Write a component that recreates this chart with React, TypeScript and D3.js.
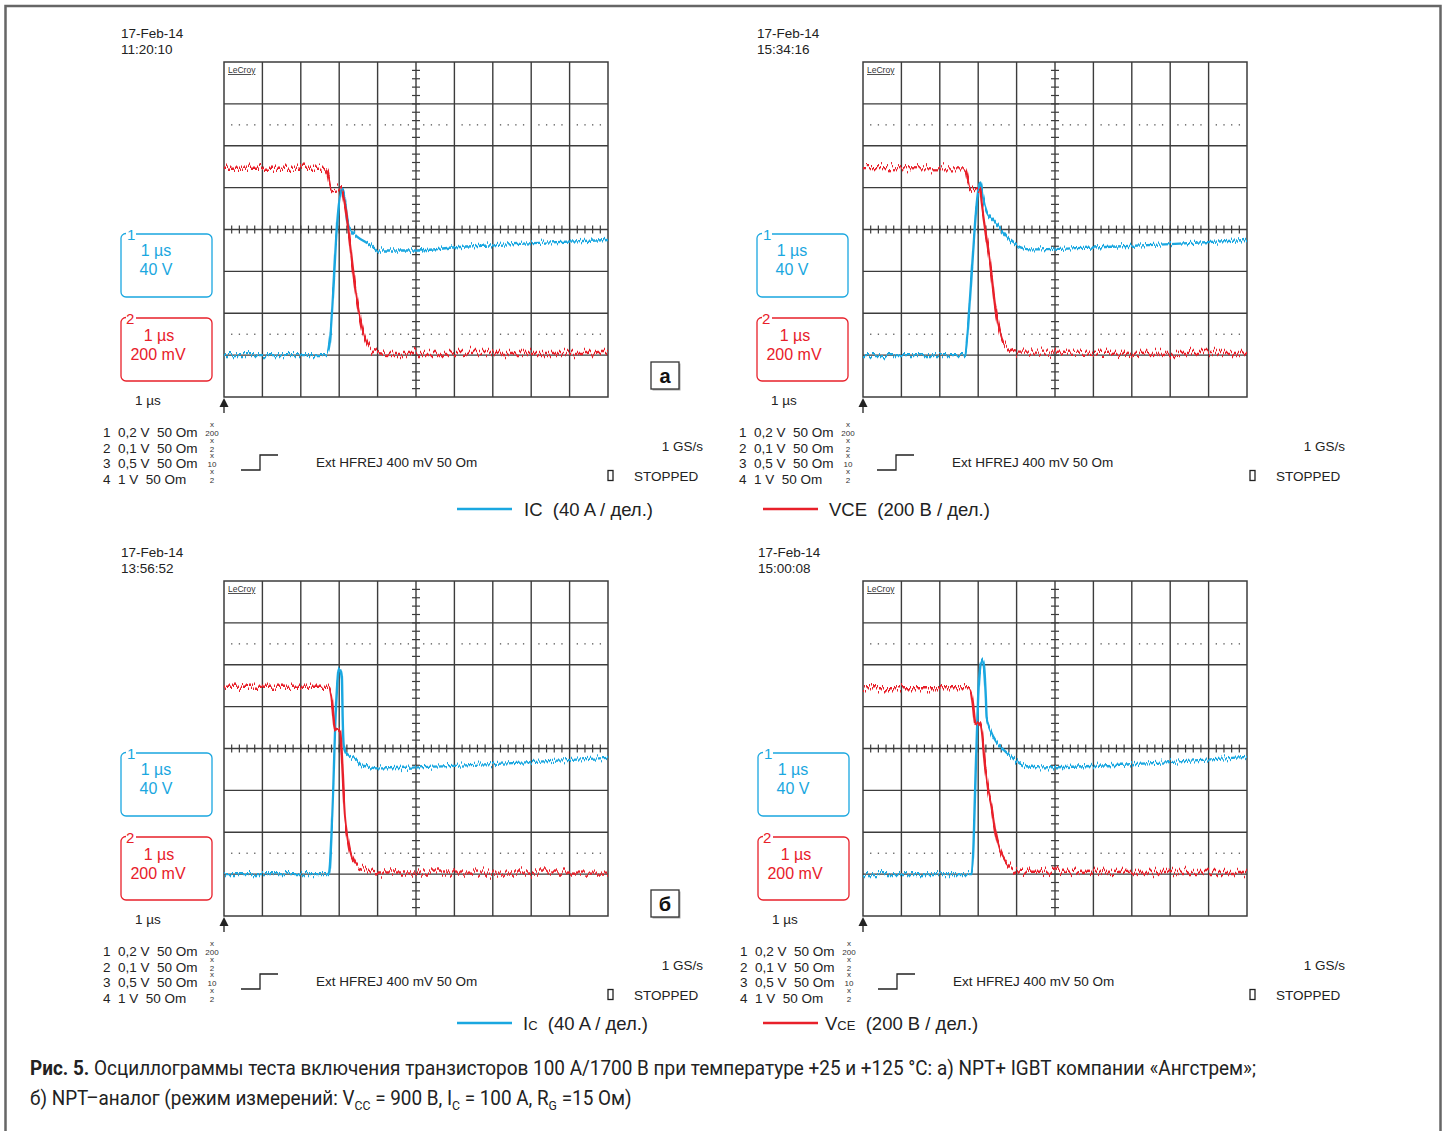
import React from 'react';
import * as d3 from 'd3';

// ---------- DATA (time in µs, IC in A, VCE in V) ----------
const icA: [number, number][] = [[0,0],[2.67,0],[2.76,14],[2.85,65],[2.93,117],[3.02,151],[3.09,158],[3.15,148],[3.21,129],[3.26,122],[3.89,103],[3.98,100],[5.02,100],[6.02,103],[7.01,105],[8.05,107],[10,110]];
const vceA: [number, number][] = [[0,895],[2.58,895],[2.67,884],[2.80,788],[3.06,793],[3.15,717],[3.45,279],[3.63,106],[3.80,34],[3.98,15],[4.3,10],[10,10]];
const icB: [number, number][] = [[0,0],[2.66,0],[2.72,20],[2.79,56],[2.87,100],[2.96,145],[3.03,164],[3.06,166],[3.12,151],[3.22,137],[3.39,129],[3.57,121],[3.74,113],[4.0,105],[4.35,101],[6.17,103],[8.0,106],[10,110]];
const vceB: [number, number][] = [[0,893],[2.66,892],[2.79,797],[3.05,789],[3.09,726],[3.31,440],[3.48,184],[3.65,57],[3.83,25],[4.0,12],[10,10]];
const icC: [number, number][] = [[0,0],[2.72,0],[2.76,10],[2.80,39],[2.85,87],[2.89,135],[2.94,176],[2.98,195],[3.02,198],[3.07,189],[3.09,150],[3.12,122],[3.20,114],[3.45,109],[3.58,104],[3.71,103],[3.98,101],[5.0,102],[7.5,106],[10,111]];
const vceC: [number, number][] = [[0,895],[2.72,895],[2.80,848],[2.85,752],[2.89,689],[2.98,697],[3.02,689],[3.07,561],[3.11,402],[3.15,275],[3.20,203],[3.28,116],[3.41,53],[3.54,29],[3.67,21],[4.0,8],[10,7]];
const icD: [number, number][] = [[0,0],[2.83,0],[2.87,20],[2.92,80],[2.96,128],[3.0,170],[3.05,198],[3.10,206],[3.15,198],[3.20,167],[3.22,149],[3.31,138],[3.48,126],[3.74,116],[4.0,108],[4.26,103],[4.61,102],[7.0,105],[10,112]];
const vceD: [number, number][] = [[0,888],[2.79,888],[2.87,801],[2.92,721],[2.98,708],[3.05,721],[3.09,689],[3.18,513],[3.26,402],[3.35,322],[3.44,211],[3.57,116],[3.74,55],[3.87,29],[4.1,11],[10,10]];

const dates = ['17-Feb-14', '17-Feb-14', '17-Feb-14', '17-Feb-14'];
const times = ['11:20:10', '15:34:16', '13:56:52', '15:00:08'];
const infoRows = ['1  0,2 V  50 Om', '2  0,1 V  50 Om', '3  0,5 V  50 Om', '4  1 V  50 Om'];
const probeFactors = ['200', '2', '10', '2'];
const chan1 = ['1 µs', '40 V'];
const chan2 = ['1 µs', '200 mV'];
const timebase = '1 µs';
const triggerText = 'Ext HFREJ 400 mV 50 Om';
const sampleRate = '1 GS/s';
const status = 'STOPPED';
const panelLabels = ['а', 'б'];
const timeDomain = [0, 10];          // 10 div × 1 µs
const icDomain = [-40, 280];         // 8 div × 40 A, zero at −3 div
const vceDomain = [-200, 1400];      // 8 div × 200 V, zero at −3 div

// ---------- LAYOUT ----------
const GW = 384, GH = 335;
const panels = [
  { gx: 224, gy: 62, ic: icA, vce: vceA, lx: 0 },
  { gx: 863, gy: 62, ic: icB, vce: vceB, lx: -3 },
  { gx: 224, gy: 581, ic: icC, vce: vceC, lx: 0 },
  { gx: 863, gy: 581, ic: icD, vce: vceD, lx: -2 },
];
const BLUE = '#1aa7e0';
const RED = '#e8202a';
const GRID = '#3c3c3c';
const FONT = '"Liberation Sans", Arial, sans-serif';

function chanPath(x0: number, y0: number, x1: number, y1: number, r: number, gapEnd: number) {
  return `M${x0 + gapEnd},${y0} H${x1 - r} A${r},${r} 0 0 1 ${x1},${y0 + r} V${y1 - r} A${r},${r} 0 0 1 ${x1 - r},${y1} H${x0 + r} A${r},${r} 0 0 1 ${x0},${y1 - r} V${y0 + r} A${r},${r} 0 0 1 ${x0 + r},${y0 - 0.5}`;
}

function Scope({ p, idx }: { p: any; idx: number }) {
  const { gx, gy } = p;
  const lx = p.lx;
  const x = d3.scaleLinear().domain(timeDomain).range([gx, gx + GW]);
  const yI = d3.scaleLinear().domain(icDomain).range([gy + GH, gy]);
  const yV = d3.scaleLinear().domain(vceDomain).range([gy + GH, gy]);
  const lineI = d3.line<[number, number]>().x(d => x(d[0])).y(d => yI(d[1])).curve(d3.curveMonotoneX);
  const lineV = d3.line<[number, number]>().x(d => x(d[0])).y(d => yV(d[1])).curve(d3.curveMonotoneX);
  const vx = d3.range(1, 10).map(i => gx + (i * GW) / 10);
  const hy = d3.range(1, 8).map(j => gy + (j * GH) / 8);
  const cx = gx + GW / 2, cy = gy + GH / 2;
  const hTicks = d3.range(1, 50).map(k => gx + (k * GW) / 50);
  const vTicks = d3.range(1, 40).map(k => gy + (k * GH) / 40);
  const dotY = [gy + 1.5 * GH / 8, gy + 6.5 * GH / 8];
  const dotX = d3.range(1, 50).filter(k => k % 5 !== 0).map(k => gx + (k * GW) / 50);
  const bx0 = gx - 103 + lx, bx1 = gx - 12 + lx;
  const b1y = gy + 172, b2y = gy + 256;
  const rightShift = idx % 2 === 1 ? 3 : 0;
  return (
    <g fontFamily={FONT}>
      {/* date */}
      <text x={gx - 103 + lx} y={gy - 24} fontSize={13.5} fill="#222">{dates[idx]}</text>
      <text x={gx - 103 + lx} y={gy - 8} fontSize={13.5} fill="#222">{times[idx]}</text>
      {/* grid */}
      {vx.map((v, i) => <line key={'v' + i} x1={v} x2={v} y1={gy} y2={gy + GH} stroke={GRID} strokeWidth={1.4} />)}
      {hy.map((h, i) => <line key={'h' + i} x1={gx} x2={gx + GW} y1={h} y2={h} stroke={GRID} strokeWidth={1.4} />)}
      {hTicks.map((t, i) => <line key={'ht' + i} x1={t} x2={t} y1={cy - 4} y2={cy + 4} stroke={GRID} strokeWidth={1.2} />)}
      {vTicks.map((t, i) => <line key={'vt' + i} x1={cx - 4} x2={cx + 4} y1={t} y2={t} stroke={GRID} strokeWidth={1.2} />)}
      {dotY.map((dy, j) => dotX.map((dx, i) => <rect key={'d' + j + '_' + i} x={dx - 0.6} y={dy - 0.6} width={1.3} height={1.3} fill="#555" />))}
      <rect x={gx} y={gy} width={GW} height={GH} fill="none" stroke={GRID} strokeWidth={1.5} />
      <text x={gx + 4} y={gy + 11} fontSize={8.5} fill="#333" textDecoration="underline">LeCroy</text>
      {/* traces */}
      <path d={lineI(p.ic) || ''} fill="none" stroke={BLUE} strokeWidth={2.4} filter="url(#jitB)" />
      <path d={lineV(p.vce) || ''} fill="none" stroke={RED} strokeWidth={2.4} filter="url(#jitR)" />
      {/* trigger arrow */}
      <path d={`M${gx},${gy + GH + 1} L${gx - 4.5},${gy + GH + 10} L${gx + 4.5},${gy + GH + 10} Z`} fill="#222" />
      <line x1={gx} x2={gx} y1={gy + GH + 8} y2={gy + GH + 16} stroke="#222" strokeWidth={1.3} />
      {/* channel boxes */}
      <path d={chanPath(bx0, b1y, bx1, b1y + 63, 5, 15)} fill="none" stroke={BLUE} strokeWidth={1.3} />
      <text x={bx0 + 6} y={b1y + 6} fontSize={15} fill={BLUE}>1</text>
      <text x={bx0 + 35} y={b1y + 22} fontSize={16} fill={BLUE} textAnchor="middle">{chan1[0]}</text>
      <text x={bx0 + 35} y={b1y + 41} fontSize={16} fill={BLUE} textAnchor="middle">{chan1[1]}</text>
      <path d={chanPath(bx0, b2y, bx1, b2y + 63, 5, 15)} fill="none" stroke={RED} strokeWidth={1.3} />
      <text x={bx0 + 5} y={b2y + 6} fontSize={15} fill={RED}>2</text>
      <text x={bx0 + 38} y={b2y + 23} fontSize={16} fill={RED} textAnchor="middle">{chan2[0]}</text>
      <text x={bx0 + 37} y={b2y + 42} fontSize={16} fill={RED} textAnchor="middle">{chan2[1]}</text>
      <text x={gx - 89 + lx} y={gy + 343} fontSize={13.5} fill="#222">{timebase}</text>
      {/* info block */}
      {infoRows.map((r, i) => {
        const by = gy + 375 + i * 15.7;
        return (
          <g key={'ir' + i}>
            <text x={gx - 121 + lx} y={by} fontSize={13.5} fill="#222" style={{ whiteSpace: 'pre' }}>{r}</text>
            <text x={gx - 12 + lx} y={by - 10} fontSize={8} fill="#333" textAnchor="middle">x</text>
            <text x={gx - 12 + lx} y={by - 1} fontSize={8} fill="#333" textAnchor="middle">{probeFactors[i]}</text>
          </g>
        );
      })}
      <path d={`M${gx + 17 + lx},${gy + 408} H${gx + 36 + lx} V${gy + 393} H${gx + 54 + lx}`} fill="none" stroke="#222" strokeWidth={1.3} />
      <text x={gx + 92 + lx} y={gy + 405} fontSize={13.5} fill="#222">{triggerText}</text>
      <text x={gx + 479 + rightShift} y={gy + 389} fontSize={13.5} fill="#222" textAnchor="end">{sampleRate}</text>
      <rect x={gx + 384 + rightShift} y={gy + 408.5} width={5} height={10} fill="none" stroke="#222" strokeWidth={1.3} />
      <text x={gx + 410 + rightShift} y={gy + 419} fontSize={13.5} fill="#222">{status}</text>
    </g>
  );
}

function LabelBox({ x, y, t }: { x: number; y: number; t: string }) {
  return (
    <g>
      <rect x={x + 1.5} y={y + 1.5} width={28} height={27} fill="#aaa" />
      <rect x={x} y={y} width={28} height={27} fill="#fff" stroke="#333" strokeWidth={1.3} />
      <text x={x + 14} y={y + 21} fontSize={20} fontWeight="bold" textAnchor="middle" fontFamily={FONT} fill="#111">{t}</text>
    </g>
  );
}

export default function App() {
  const W = 1446, H = 1131;
  return (
    <div style={{ position: 'absolute', left: 0, top: 0, width: W, height: H, background: '#fff' }}>
      <svg width={W} height={H} viewBox={`0 0 ${W} ${H}`} style={{ display: 'block' }}>
        <defs>
          <filter id="jitR" filterUnits="userSpaceOnUse" x="0" y="0" width={W} height={H} colorInterpolationFilters="sRGB">
            <feTurbulence type="fractalNoise" baseFrequency="0.7 0.004" numOctaves={2} seed={3} result="t" />
            <feColorMatrix in="t" type="matrix" values="0 0 0 0 0.5  0 1 0 0 0  0 0 0 0 0  0 0 0 0 1" result="m" />
            <feDisplacementMap in="SourceGraphic" in2="m" scale={15} xChannelSelector="R" yChannelSelector="G" />
          </filter>
          <filter id="jitB" filterUnits="userSpaceOnUse" x="0" y="0" width={W} height={H} colorInterpolationFilters="sRGB">
            <feTurbulence type="fractalNoise" baseFrequency="0.7 0.004" numOctaves={2} seed={11} result="t" />
            <feColorMatrix in="t" type="matrix" values="0 0 0 0 0.5  0 1 0 0 0  0 0 0 0 0  0 0 0 0 1" result="m" />
            <feDisplacementMap in="SourceGraphic" in2="m" scale={11} xChannelSelector="R" yChannelSelector="G" />
          </filter>
        </defs>
        <rect x={0} y={0} width={W} height={H} fill="#fff" />
        <rect x={5.5} y={6} width={1435} height={1140} fill="none" stroke="#666" strokeWidth={2.5} />
        {panels.map((p, i) => <Scope key={i} p={p} idx={i} />)}
        <LabelBox x={651} y={362} t={panelLabels[0]} />
        <LabelBox x={651} y={890} t={panelLabels[1]} />
        {/* legends */}
        <g fontFamily={FONT} fill="#222">
          <line x1={457} x2={512} y1={509} y2={509} stroke={BLUE} strokeWidth={2.5} />
          <text x={524} y={515.5} fontSize={18.5} style={{ whiteSpace: 'pre' }}>IC  (40 A / дел.)</text>
          <line x1={763} x2={818} y1={509} y2={509} stroke={RED} strokeWidth={2.5} />
          <text x={829} y={515.5} fontSize={18.5} style={{ whiteSpace: 'pre' }}>VCE  (200 В / дел.)</text>
          <line x1={457} x2={512} y1={1023} y2={1023} stroke={BLUE} strokeWidth={2.5} />
          <text x={523} y={1029.5} fontSize={18.5} style={{ whiteSpace: 'pre' }}>I<tspan fontSize={13}>C</tspan>  (40 A / дел.)</text>
          <line x1={763} x2={818} y1={1023} y2={1023} stroke={RED} strokeWidth={2.5} />
          <text x={825} y={1029.5} fontSize={18.5} style={{ whiteSpace: 'pre' }}>V<tspan fontSize={13}>CE</tspan>  (200 В / дел.)</text>
        </g>
        {/* caption */}
        <g fontFamily='Roboto, "Noto Sans", sans-serif' fill="#222">
          <text x={30} y={1075} fontSize={20} textLength={1226} lengthAdjust="spacingAndGlyphs">
            <tspan fontWeight="bold">Рис. 5.</tspan>
            <tspan> Осциллограммы теста включения транзисторов 100 А/1700 В при температуре +25 и +125 °С: а) NPT+ IGBT компании «Ангстрем»;</tspan>
          </text>
          <text x={0} y={0} fontSize={20} transform="translate(30,1105) scale(0.945,1)">
            б) NPT–аналог (режим измерений: V<tspan fontSize={13} baselineShift="-5">CC</tspan> = 900 В, I<tspan fontSize={13} baselineShift="-5">C</tspan> = 100 А, R<tspan fontSize={13} baselineShift="-5">G</tspan> =15 Ом)
          </text>
        </g>
      </svg>
    </div>
  );
}
